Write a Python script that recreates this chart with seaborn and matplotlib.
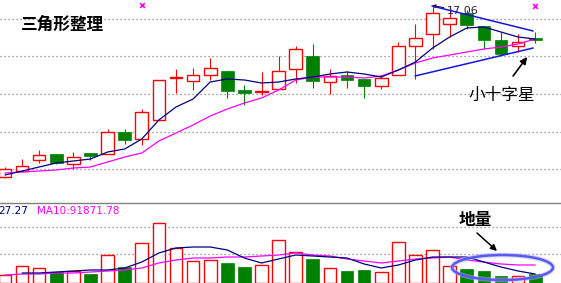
import numpy as np
import pandas as pd
import matplotlib
matplotlib.use("Agg")
import matplotlib.pyplot as plt
from matplotlib.patches import Ellipse
import seaborn as sns

# ---------------- data ----------------
opens  = [13.64, 13.76, 13.98, 14.10, 13.90, 14.12, 14.10, 14.54, 14.40, 14.78, 15.63, 15.56,
          15.68, 15.76, 15.38, 15.35, 15.40, 15.80, 16.06, 15.54, 15.68, 15.60, 15.46, 15.68,
          16.26, 16.50, 16.70, 16.92, 16.66, 16.38, 16.26, 16.42]
highs  = [13.84, 14.00, 14.18, 14.10, 14.14, 14.12, 14.60, 14.60, 15.00, 15.58, 15.80, 15.82,
          16.02, 15.76, 15.48, 15.74, 16.06, 16.26, 16.30, 15.80, 15.76, 15.60, 15.68, 16.34,
          16.70, 17.06, 17.04, 16.98, 16.66, 16.54, 16.50, 16.54]
lows   = [13.62, 13.74, 13.92, 13.90, 13.80, 13.98, 14.10, 14.30, 14.28, 14.78, 15.32, 15.38,
          15.58, 15.22, 15.08, 15.28, 15.40, 15.52, 15.42, 15.30, 15.42, 15.22, 15.40, 15.68,
          15.60, 16.20, 16.44, 16.60, 16.20, 16.10, 16.14, 16.32]
closes = [13.80, 13.86, 14.08, 13.92, 14.04, 14.06, 14.54, 14.38, 14.94, 15.58, 15.64, 15.68,
          15.82, 15.36, 15.32, 15.36, 15.76, 16.20, 15.56, 15.66, 15.58, 15.46, 15.62, 16.26,
          16.42, 16.92, 16.82, 16.68, 16.38, 16.10, 16.34, 16.38]
ma5    = [13.68, 13.76, 13.84, 13.92, 13.96, 14.00, 14.14, 14.20, 14.40, 14.78, 15.04, 15.20,
          15.54, 15.60, 15.58, 15.52, 15.54, 15.60, 15.64, 15.70, 15.74, 15.70, 15.64, 15.78,
          15.94, 16.22, 16.44, 16.62, 16.64, 16.54, 16.44, 16.40]
ma10   = [13.72, 13.74, 13.76, 13.78, 13.82, 13.84, 13.94, 14.04, 14.12, 14.36, 14.52, 14.68,
          14.86, 15.00, 15.12, 15.22, 15.38, 15.58, 15.64, 15.64, 15.64, 15.62, 15.66, 15.78,
          15.92, 16.02, 16.08, 16.14, 16.20, 16.24, 16.30, 16.40]
volumes = [40800, 86700, 76500, 56100, 61200, 45900, 142800, 81600, 204000, 306000, 178500,
           112200, 117300, 102000, 81600, 91800, 219300, 158100, 122400, 76500, 61200, 66300,
           56100, 209100, 142800, 168300, 86700, 71400, 61200, 35700, 35700, 45900]
vol_ma5 = [np.nan, 51000, 51000, 56100, 61200, 66300, 66300, 76500, 107100, 153000, 178500,
           183600, 183600, 168300, 127500, 102000, 122400, 142800, 137700, 132600, 127500,
           96900, 76500, 91800, 117300, 132600, 132600, 132600, 107100, 81600, 61200, 45900]
vol_ma10 = [40800, 45900, 45900, 51000, 51000, 56100, 61200, 66300, 76500, 102000, 117300,
            127500, 127500, 132600, 132600, 137700, 142800, 153000, 142800, 137700, 122400,
            112200, 102000, 112200, 122400, 127500, 132600, 117300, 107100, 96900, 91800, 91800]
price_grid = [13.80, 14.54, 15.30, 16.06, 16.80]
vol_grid = [147900, 285600]
# triangle boundary lines (start/end index, price)
upper_x, upper_y = [24.97, 30.88], [17.06, 16.56]
lower_x, lower_y = [23.98, 30.88], [15.66, 16.22]
title_text = "三角形整理"
star_text = "小十字星"
vol_note = "地量"
high_label = "17.06"
vol_label1 = "27.27"
vol_label2 = "MA10:91871.78"

# ---------------- style ----------------
sns.set_style("white")
plt.rcParams['font.family'] = ['Noto Sans CJK SC', 'DejaVu Sans']

RED = "#FF0000"
GREEN = "#008000"
NAVY = "#000080"
MAGENTA = "#FF00FF"
BLUE = "#1515E0"

n = len(opens)
idx = np.arange(n)
df = pd.DataFrame({"i": idx, "open": opens, "high": highs, "low": lows, "close": closes,
                   "ma5": ma5, "ma10": ma10, "vol": volumes,
                   "vma5": vol_ma5, "vma10": vol_ma10})
up = df["close"] >= df["open"]

W, H = 561, 283
fig = plt.figure(figsize=(W / 100, H / 100), dpi=100)
ax = fig.add_axes([0, 80 / H, 1, 203 / H])
axv = fig.add_axes([0, 0, 1, 80 / H])

xlim = (-0.29, 32.51)
for a in (ax, axv):
    a.set_xlim(*xlim)
    a.set_xticks([])
    a.set_yticks([])
    a.set_facecolor("white")
    for s in a.spines.values():
        s.set_visible(False)
ax.set_ylim(13.12, 17.18)
axv.set_ylim(0, 408000)
axv.spines["top"].set_visible(True)
axv.spines["top"].set_color("#808080")
axv.spines["top"].set_linewidth(1.0)

# grid
for g in price_grid:
    ax.axhline(g, color="#808080", lw=0.9, ls=(0, (1, 2.2)), zorder=0)
for g in vol_grid:
    axv.axhline(g, color="#808080", lw=0.9, ls=(0, (1, 2.2)), zorder=0)

# ---------------- candles ----------------
bw = 0.74
for i, r in df.iterrows():
    o, h, l, c = r["open"], r["high"], r["low"], r["close"]
    top, bot = max(o, c), min(o, c)
    if c >= o:
        ax.vlines(i, top, h, color=RED, lw=0.8, zorder=2)
        ax.vlines(i, l, bot, color=RED, lw=0.8, zorder=2)
        ax.bar(i, max(top - bot, 0.004), bottom=bot, width=bw, facecolor="white",
               edgecolor=RED, linewidth=1.0, zorder=3)
    else:
        ax.vlines(i, l, h, color=GREEN, lw=0.8, zorder=2)
        ax.bar(i, max(top - bot, 0.02), bottom=bot, width=bw, facecolor=GREEN,
               edgecolor=GREEN, linewidth=0.5, zorder=3)

sns.lineplot(data=df, x="i", y="ma10", ax=ax, color=MAGENTA, lw=0.9, zorder=4, legend=False)
sns.lineplot(data=df, x="i", y="ma5", ax=ax, color=NAVY, lw=0.9, zorder=5, legend=False)
ax.plot(upper_x, upper_y, color=BLUE, lw=1.1, zorder=6)
ax.plot(lower_x, lower_y, color=BLUE, lw=1.1, zorder=6)
ax.set_xlabel("")
ax.set_ylabel("")

# markers at top
ax.scatter([8.01, 31.0], [17.08, 17.06], marker="x", s=12, color=MAGENTA, lw=1.2, zorder=7)

# texts
ax.text(3.39, 16.68, title_text, fontsize=12, fontweight="bold", ha="center", va="center",
        color="black")
ax.annotate(high_label, xy=(24.97, 17.07), xytext=(25.85, 16.96), fontsize=8,
            ha="left", va="center", family="DejaVu Sans",
            arrowprops=dict(arrowstyle="-|>", lw=0.7, color="black", mutation_scale=5,
                            shrinkA=0, shrinkB=0))
ax.text(29.06, 15.28, star_text, fontsize=12, ha="center", va="center", color="black")
ax.annotate("", xy=(30.53, 16.04), xytext=(29.71, 15.66),
            arrowprops=dict(arrowstyle="-|>", lw=1.2, color="black", mutation_scale=10,
                            shrinkA=0, shrinkB=0))

# ---------------- volume ----------------
for i, r in df.iterrows():
    if r["close"] >= r["open"]:
        axv.bar(i, r["vol"], width=bw, facecolor="white", edgecolor=RED, linewidth=1.0, zorder=2)
    else:
        axv.bar(i, r["vol"], width=bw, facecolor=GREEN, edgecolor=GREEN, linewidth=0.5, zorder=2)

sns.lineplot(data=df, x="i", y="vma10", ax=axv, color=MAGENTA, lw=0.9, zorder=4, legend=False)
sns.lineplot(data=df.dropna(subset=["vma5"]), x="i", y="vma5", ax=axv, color=NAVY, lw=0.9,
             zorder=5, legend=False)
axv.set_xlabel("")
axv.set_ylabel("")

ell = Ellipse((29.09, 79050), 5.9, 127500, fill=False, edgecolor="#5A5AF0", lw=1.8, zorder=6)
axv.add_patch(ell)
ell2 = Ellipse((29.09, 79050), 5.9, 127500, fill=False, edgecolor="#B0B0F8", lw=3.5,
               alpha=0.5, zorder=5)
axv.add_patch(ell2)
axv.text(27.49, 321300, vol_note, fontsize=12, fontweight="bold", ha="center", va="center",
         color="black")
axv.annotate("", xy=(28.77, 163200), xytext=(27.6, 255000),
             arrowprops=dict(arrowstyle="-|>", lw=1.1, color="black", mutation_scale=9,
                             shrinkA=0, shrinkB=0))

fig.text(28.5 / W, 1 - 211 / H, vol_label1, fontsize=7.5, color=NAVY, ha="right",
         va="center", family="DejaVu Sans")
fig.text(37 / W, 1 - 211 / H, vol_label2, fontsize=7.5, color=MAGENTA, ha="left",
         va="center", family="DejaVu Sans")

fig.savefig("out.png", dpi=100)
